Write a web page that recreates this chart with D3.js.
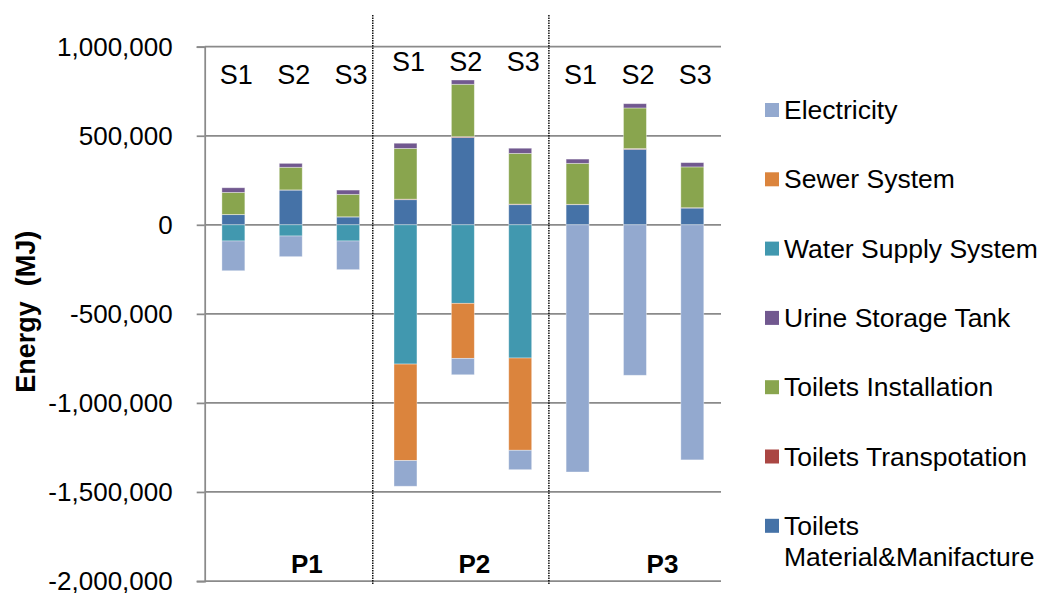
<!DOCTYPE html>
<html>
<head>
<meta charset="utf-8">
<script src="https://cdn.jsdelivr.net/npm/d3@7"></script>
<style>
  html, body { margin: 0; padding: 0; background: #fff; }
  svg text { font-family: "Liberation Sans", Arial, sans-serif; }
</style>
</head>
<body>
<svg id="chart" width="1041" height="593"></svg>
<script>
// Scenario columns, grouped by plan
const groups = ["P1", "P2", "P3"];
const scenarios = ["S1", "S2", "S3"];

// Energy per component (MJ); positive = consumption, negative = savings
const material     = [57000, 195000, 44000, 141000, 490000, 113000, 113000, 424000, 94000];
const transport    = [1000, 1000, 1000, 3000, 5000, 3000, 2000, 4000, 2000];
const installation = [124000, 127000, 126000, 285000, 294000, 285000, 230000, 228000, 229000];
const urineTank    = [26000, 22000, 24000, 29000, 24000, 29000, 24000, 24000, 24000];
const waterSupply  = [-91000, -63000, -91000, -782000, -441000, -748000, 0, 0, 0];
const sewer        = [0, 0, 0, -542000, -309000, -518000, 0, 0, 0];
const electricity  = [-167000, -116000, -161000, -144000, -92000, -109000, -1388000, -845000, -1320000];

const seriesNames = ["Toilets Material&Manifacture", "Toilets Transpotation", "Toilets Installation",
                     "Urine Storage Tank", "Water Supply System", "Sewer System", "Electricity"];
const yTicks = [1000000, 500000, 0, -500000, -1000000, -1500000, -2000000];

const seriesValues = [material, transport, installation, urineTank, waterSupply, sewer, electricity];
const colors = ["#4572A7", "#AA4643", "#89A54E", "#71588F", "#4198AF", "#DB843D", "#93A9CF"];

// Rows for the stack: one per column
const columns = [];
groups.forEach((g, gi) => scenarios.forEach((s, si) => {
  const i = gi * scenarios.length + si;
  const row = { id: i, group: g, scenario: s };
  seriesNames.forEach((k, ki) => row[k] = seriesValues[ki][i]);
  columns.push(row);
}));

const svg = d3.select("#chart");
const plot = { left: 204.7, right: 721, top: 46.7, bottom: 581 };

const x = d3.scaleBand()
  .domain(columns.map(d => d.id))
  .range([plot.left, plot.right])
  .paddingInner(0.6)
  .paddingOuter(0.3);

// Continuous column index -> pixel, for annotations placed between columns
const xi = d3.scaleLinear().domain([0, columns.length]).range([plot.left, plot.right]);

const y = d3.scaleLinear().domain([-2000000, 1000000]).range([plot.bottom, plot.top]);

// Horizontal gridlines
svg.append("g")
  .selectAll("line")
  .data(yTicks)
  .join("line")
  .attr("x1", plot.left).attr("x2", plot.right)
  .attr("y1", d => y(d)).attr("y2", d => y(d))
  .attr("stroke", "#8a8a8a")
  .attr("stroke-width", 1.75);

// Value axis
const fmt = d3.format(",");
const yAxis = svg.append("g")
  .attr("transform", `translate(${plot.left},0)`)
  .call(d3.axisLeft(y).tickValues(yTicks).tickSize(8).tickPadding(24)
        .tickFormat(d => fmt(d).replace("\u2212", "-")));
yAxis.select(".domain").attr("stroke", "#8a8a8a").attr("stroke-width", 1.75);
yAxis.selectAll(".tick line").attr("stroke", "#8a8a8a").attr("stroke-width", 1.75);
yAxis.selectAll(".tick text")
  .attr("font-family", "Liberation Sans, Arial, sans-serif")
  .attr("font-size", 26)
  .attr("fill", "#000");

// Axis title
svg.append("text")
  .attr("transform", `translate(35,${(y(0) + y(-1000000)) / 2 - 2}) rotate(-90)`)
  .attr("text-anchor", "middle")
  .attr("font-size", 27)
  .attr("font-weight", "bold")
  .style("white-space", "pre")
  .text("Energy  (MJ)");

// Stacked bars, positives upward and negatives downward from zero
const stacked = d3.stack().keys(seriesNames).offset(d3.stackOffsetDiverging)(columns);

svg.append("g")
  .selectAll("g")
  .data(stacked)
  .join("g")
  .attr("fill", (d, i) => colors[i])
  .selectAll("rect")
  .data(d => d.filter(p => p[1] !== p[0]))
  .join("rect")
  .attr("x", d => x(d.data.id))
  .attr("width", x.bandwidth())
  .attr("y", d => y(Math.max(d[0], d[1])))
  .attr("height", d => Math.abs(y(d[0]) - y(d[1])))
  .attr("stroke", "rgba(255,255,255,0.45)")
  .attr("stroke-width", 0.8);

// Dotted separators between plans
svg.append("g")
  .selectAll("line")
  .data([2.93, 6.0])
  .join("line")
  .attr("x1", d => xi(d)).attr("x2", d => xi(d))
  .attr("y1", 15).attr("y2", 584)
  .attr("stroke", "#000")
  .attr("stroke-width", 1.4)
  .attr("stroke-dasharray", "1.5,1");

// Scenario labels above each column
const sLevel = { P1: 790000, P2: 865000, P3: 790000 };
svg.append("g")
  .selectAll("text")
  .data(columns)
  .join("text")
  .attr("x", d => x(d.id) + x.bandwidth() / 2 + 3)
  .attr("y", d => y(sLevel[d.group]))
  .attr("text-anchor", "middle")
  .attr("font-size", 27)
  .text(d => d.scenario);

// Plan labels along the bottom
const pAt = [1.28, 4.2, 7.48];
svg.append("g")
  .selectAll("text")
  .data(groups)
  .join("text")
  .attr("x", (d, i) => xi(pAt[i] + 0.5))
  .attr("y", y(-1953000))
  .attr("text-anchor", "middle")
  .attr("font-size", 26)
  .attr("font-weight", "bold")
  .text(d => d);

// Legend (reverse series order)
const legendItems = seriesNames.map((n, i) => ({ name: n, color: colors[i] })).reverse();
const legend = svg.append("g").attr("transform", "translate(765,110)");
const li = legend.selectAll("g")
  .data(legendItems)
  .join("g")
  .attr("transform", (d, i) => `translate(0,${i * 69.3})`);
li.append("rect")
  .attr("x", 0).attr("y", -7).attr("width", 14).attr("height", 14)
  .attr("fill", d => d.color);
li.append("text")
  .attr("x", 19)
  .attr("y", 9)
  .attr("font-size", 26.5)
  .selectAll("tspan")
  .data(d => d.name === "Toilets Material&Manifacture" ? ["Toilets", "Material&Manifacture"] : [d.name])
  .join("tspan")
  .attr("x", 19)
  .attr("dy", (d, i) => i === 0 ? 0 : 31.3)
  .text(d => d);
</script>
</body>
</html>
